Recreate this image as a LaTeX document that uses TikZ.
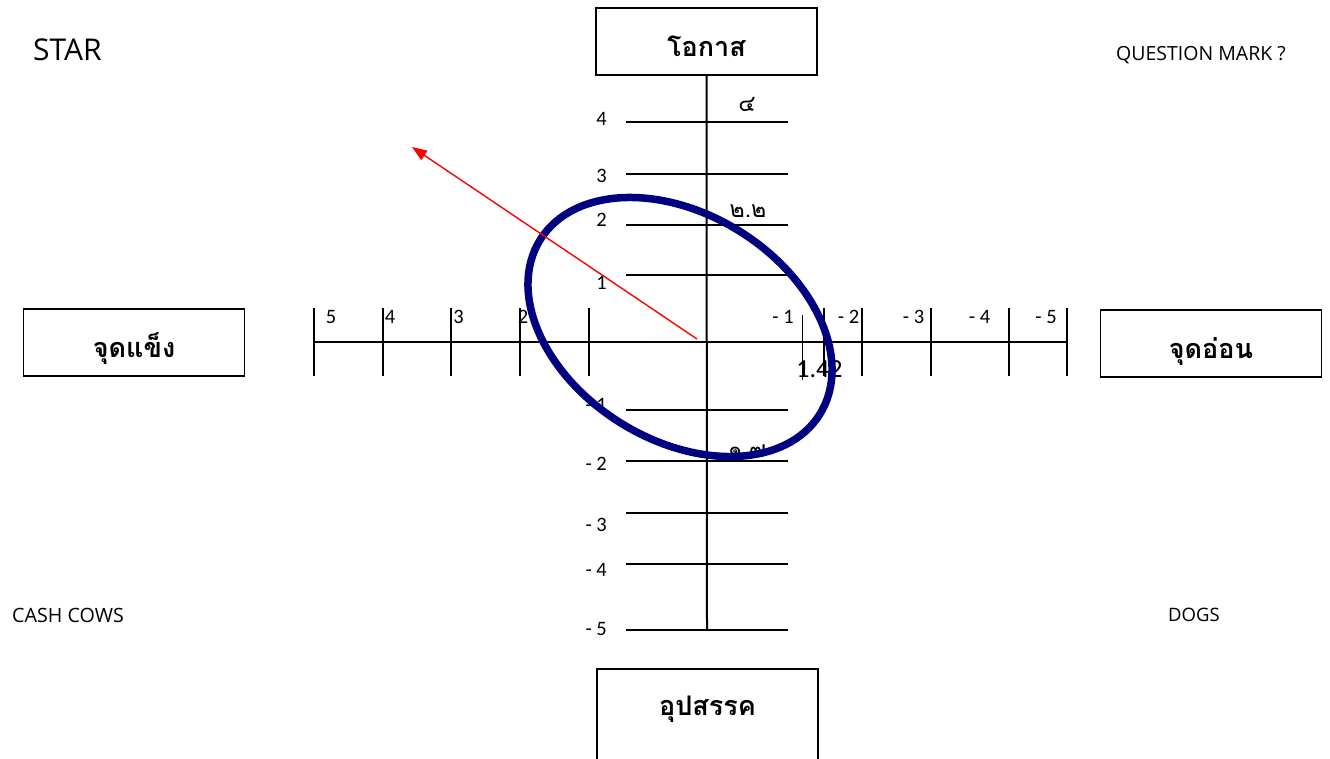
\documentclass[tikz,border=0pt]{standalone}
\usepackage{fontspec}
\newfontfamily\thaifont[Script=Thai]{Loma}
\newfontfamily\latinfont{Open Sans}
\newfontfamily\numfont{Carlito}
\usetikzlibrary{arrows.meta}
\definecolor{ovalblue}{HTML}{000080}
\tikzset{
  box/.style={draw, line width=1.8pt, minimum width=221pt, minimum height=67pt, inner sep=0pt, text height=29pt, text depth=0pt, font=\thaifont\bfseries\fontsize{27}{30}\selectfont},
  axis/.style={line width=2pt},
  num/.style={inner sep=0pt, font=\numfont\fontsize{20.5}{24}\selectfont},
  thnum/.style={inner sep=0pt, font=\thaifont\fontsize{23}{26}\selectfont},
  corner/.style={anchor=west, inner sep=0pt, font=\latinfont\fontsize{19.5}{22}\selectfont},
  arr/.style={-{Triangle[length=15pt,width=11pt]}, red, line width=1.4pt},
  oval/.style={ovalblue, line width=7.5pt}
}
\begin{document}
\begin{tikzpicture}[x=1pt, y=-1pt]
\useasboundingbox (0,0) rectangle (1330,758);
% quadrant boxes
\node[box] (oppo) at (706.5,41.5) {โอกาส};
\node[box] (strength) at (134,342.5) {จุดแข็ง};
\node[box] (weak) at (1211,343.5) {จุดอ่อน};
\node[box, anchor=north, inner ysep=10pt, text height=37pt, text depth=70pt] (threat) at (707.5,668) {อุปสรรค};
% axes
\coordinate (ybot) at (707,630);
\coordinate (xleft) at (314,342);
\coordinate (xright) at (1067,342);
\draw[axis] (oppo.south) -- (ybot);
\draw[axis] (xleft) -- (xright);
\foreach \ty/\ly/\t in {122/119/4, 174/176/3, 225/220/2, 275/282.5/1, 410/405/- 1, 461/464/- 2, 513/525/- 3, 564/569.5/- 4, 630/628.5/- 5} {
  \draw[axis] (626,\ty) -- (788,\ty);
  \node[num, anchor=east] (ylab\ty) at (607,\ly) {\t};
}
\foreach \tx in {314, 383, 451, 520, 589, 824, 862, 931, 1009, 1067}
  \draw[axis] (\tx,308) -- (\tx,376);
\foreach \lx/\t in {331/5, 390/4, 458.5/3, 523/2, 783/- 1, 848.5/- 2, 913.5/- 3, 979.5/- 4, 1046/- 5}
  \node[num] (xlab\lx) at (\lx,317) {\t};
\draw[line width=0.8pt] (802,315) -- (802,380);
% values
\node[thnum] (v4) at (747,104) {๔};
\node[thnum] (v22) at (748,211) {๒.๒};
\node[thnum] (v17) at (747,451) {๑.๗};
\node[num, font=\numfont\fontsize{26}{30}\selectfont] (v142) at (819.5,369) {1.42};
% corner labels
\node[corner, font=\latinfont\fontsize{30}{33}\selectfont] (star) at (33,49.5) {STAR};
\node[corner] (qmark) at (1116,55.5) {QUESTION MARK ?};
\node[corner, font=\latinfont\fontsize{19.7}{22}\selectfont] (cash) at (12,615) {CASH COWS};
\node[corner, font=\latinfont\fontsize{18.5}{22}\selectfont] (dogs) at (1168,615) {DOGS};
% position oval and direction
\draw[oval, rotate around={-32:(680,327)}] (680,327) ellipse [x radius=164.8pt, y radius=112.8pt];
\coordinate (arrfrom) at (697,339);
\coordinate (arrto) at (412,147);
\draw[arr] (arrfrom) -- (arrto);
\end{tikzpicture}
\end{document}
